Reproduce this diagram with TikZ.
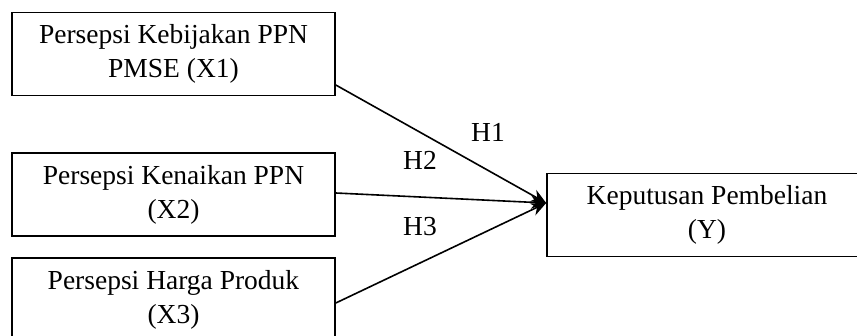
\documentclass[tikz,border=0pt]{standalone}
\usepackage{fontspec}
\setmainfont{Liberation Serif}
\usepackage{tikz}
\usetikzlibrary{arrows.meta, calc}
\tikzset{varbox/.style={draw, line width=1.6pt, minimum width=323pt, minimum height=83pt,
  align=center, inner sep=0pt, font=\fontsize{27.5}{34}\selectfont},
  hlabel/.style={font=\fontsize{27.5}{34}\selectfont, inner sep=0pt},
  path/.style={line width=1.6pt, -{Stealth[length=15pt, width=13pt]}}}

\begin{document}
\begin{tikzpicture}[x=1pt, y=-1pt]
\clip (0,0) rectangle (857,335);
\useasboundingbox (0,0) rectangle (857,335);

% Independent variables
\node[varbox] (x1) at (173.5,54) {Persepsi Kebijakan PPN\\PMSE (X1)};
\node[varbox] (x2) at (173.5,194.5) {Persepsi Kenaikan PPN\\(X2)};
\node[varbox] (x3) at (173.5,299.5) {Persepsi Harga Produk\\(X3)};

% Dependent variable
\node[varbox, minimum width=320pt] (y) at (707,215) {Keputusan Pembelian\\(Y)};
\coordinate (tip) at ($(y.west)+(0,-12)$);

% Hypotheses
\draw[path] ($(x1.east)+(0,31)$) -- (tip);
\draw[path] ($(x2.east)+(0,-1.5)$) -- (tip);
\draw[path] ($(x3.east)+(0,3.5)$) -- (tip);

\node[hlabel] (h1) at (488,132) {H1};
\node[hlabel] (h2) at (420,160) {H2};
\node[hlabel] (h3) at (420,227) {H3};
\end{tikzpicture}
\end{document}
